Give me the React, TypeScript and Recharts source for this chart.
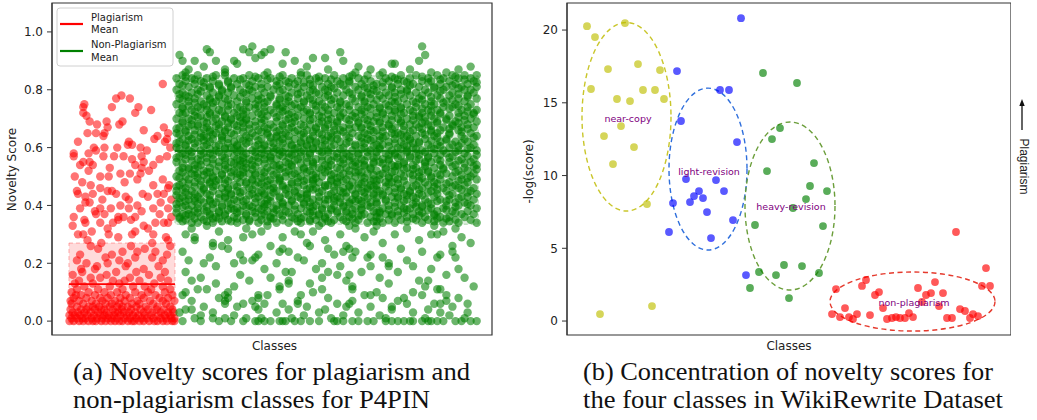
import { ScatterChart, Scatter, XAxis, YAxis, ReferenceArea, ReferenceLine } from "recharts";

const FONT = "DejaVu Sans, sans-serif";
const SERIF = "Liberation Serif, 'Times New Roman', serif";

// ---- (a) P4PIN novelty scores ----
// each row: "y (hundredths)  x-codes (0-99 across the class block)"
const RED_ROWS = [
  "82 88", "78 49", "77 44 57", "75 14", "74 13 40 65", "73 77", "72 13 62", "71 16",
  "69 19 35 50", "68 26 47", "67 36 89", "66 70", "65 17 25 33 93", "64 32 83", "63 80 92",
  "62 56 90 8", "61 55 59", "60 23 33 45 67 95", "59 25 73", "58 4 18", "57 4 32 42 51 68 92",
  "56 59 85", "55 13 19 70", "54 22 62 79 10", "53 68 38", "52 18 75", "51 48 57 67", "50 5 37 29",
  "49 64 88", "48 12 52", "47 20 79 94", "46 29 93", "45 36 40 7", "44 8 22 44 69 83 89",
  "43 15 53 74", "42 56 96 31", "41 15 19 86", "40 64 48", "39 10 29 39 56 79 93", "38 68 24",
  "37 25 33 85", "36 4 46 51 62 96", "35 46 58 14", "34 15 29 41 81 89 93", "33 3 70", "32 36 74",
  "31 62 21", "30 8 13 37 59 79", "29 46 91", "28 93 17", "27 78 30", "26 20 58 95", "25 27 71",
  "24 50 64 81", "23 10 92 40", "22 62 34 78", "21 88 7 47", "20 16 36 55", "19 53 84 26",
  "18 24 70 11", "17 12 44 90 63", "16 3 35 75", "15 29 57 86 20", "14 9 66 41 93 52",
  "13 22 80 47 5", "12 38 14 60 88 71", "11 27 50 7 77 95", "10 2 18 33 45 62 74 90",
  "09 11 24 39 53 68 81 97 6", "08 4 16 29 36 48 57 70 85 93", "07 9 21 31 43 52 64 76 88 99 1",
  "06 2 13 25 34 47 59 66 79 91 40", "05 7 18 28 38 45 55 63 72 83 95 22 50",
  "04 1 11 16 24 33 41 49 58 67 74 82 89 97 30",
  "03 3 8 14 20 27 35 43 51 56 62 70 78 86 93 98 46",
  "02 0 5 10 17 23 29 37 42 48 54 60 65 71 77 84 90 95 33",
  "01 2 7 12 15 21 26 31 36 40 45 52 57 63 68 73 79 86 91 96 99",
  "00 0 4 9 13 18 22 25 30 34 39 43 47 50 55 59 61 66 70 75 80 83 88 92 97 99",
];

const GREEN_TOP_ROWS = [
  "95 25 81", "94 10 22 31", "93 11 24 29 36 54", "92 1 28 82", "91 26 45 49",
  "90 2 6 13 19 39 55 80", "89 20 71 72 35", "88 9 97 60 43", "87 4 16 64 93 50 77",
  "86 16 59 84 3 30 41 68 89",
];

const GREEN_CORE_ROWS = [
  "85 02 07 13 16 24 29 35 41 43 52 58 63 67 74 79 86 91 95 99",
  "84.5 03 12 26 34 47 57 71 81 92",
  "84 00 05 10 19 22 27 31 38 46 49 55 60 69 72 77 83 88 93 97",
  "83.5 06 21 30 44 51 62 73 87 95",
  "83 03 08 12 17 25 33 36 40 47 53 57 64 70 75 81 84 90 98",
  "82.5 09 17 37 42 57 68 76 83 99",
  "82 01 06 14 20 23 28 34 39 44 50 54 61 66 73 78 87 92 96",
  "81.5 02 14 24 33 45 55 65 77 91",
  "81 04 09 11 18 26 30 37 42 48 51 59 62 68 71 80 85 89 94 99",
  "80.5 11 18 28 40 52 63 71 85 93",
  "80 00 07 15 21 24 32 35 45 49 56 60 65 74 76 82 88 95 97",
  "79.5 08 15 25 34 44 50 66 76 87",
  "79 02 05 12 17 22 29 38 41 46 53 57 63 69 72 79 83 91 98",
  "78.5 01 07 23 40 47 58 64 74 93",
  "78 03 10 14 19 27 31 36 43 50 55 61 67 70 77 81 86 90 96",
  "77.5 04 14 21 31 37 49 61 72 84 96",
  "77 01 06 11 16 25 28 34 40 44 52 58 64 68 75 80 87 93 99",
  "76.5 02 11 17 27 34 45 51 66 81 91",
  "76 04 08 13 20 23 30 37 42 47 54 59 62 71 73 78 84 89 95",
  "75.5 06 12 23 29 36 42 54 62 72 79 88",
  "75 00 09 15 18 26 33 39 45 48 51 56 65 69 76 82 85 92 97",
  "74.5 04 10 17 27 33 38 46 57 70 84 93",
  "74 02 07 12 21 24 29 35 41 49 53 60 63 67 74 79 88 91 96",
  "73.5 02 08 20 26 34 40 54 64 67 74 81 90",
  "73 05 10 14 17 22 31 36 43 46 50 57 61 70 72 77 83 86 94 99",
  "72.5 06 15 23 29 35 42 48 62 72 78 84 96",
  "72 01 03 11 19 27 32 38 44 52 55 59 66 68 75 81 87 93 98",
  "71.5 02 11 13 22 28 37 44 50 61 68 74 87 98",
  "71 06 08 16 20 25 30 34 40 47 54 58 64 71 78 80 84 90 95",
  "70.5 07 10 16 21 33 39 48 54 59 66 80 82 93",
  "70 00 04 13 18 23 28 37 42 45 51 56 62 69 73 76 85 89 97",
  "69.5 05 18 23 29 36 44 50 57 63 71 78 89 95",
  "69 02 09 12 15 21 26 33 39 48 53 60 65 67 74 82 86 92 99",
  "68.5 02 10 17 22 28 38 47 53 60 67 74 81 86 93",
  "68 05 07 14 19 24 31 35 41 44 50 57 63 70 77 79 83 91 96",
  "67.5 04 07 13 20 26 35 42 52 64 70 75 84 91",
  "67 01 10 17 22 29 32 38 46 49 55 59 61 68 72 80 88 94 98",
  "66.5 00 09 14 24 30 37 46 49 57 61 71 81 90 96",
  "66 03 06 11 16 20 27 34 40 43 52 54 64 66 75 78 84 87 93",
  "65.5 03 11 16 22 28 33 39 45 55 65 68 77 84 94",
  "65 00 08 13 18 25 30 36 42 47 51 58 62 71 73 81 86 90 97",
  "64.5 01 06 12 19 30 35 41 48 53 63 72 74 82 90",
  "64 04 09 15 23 26 33 37 45 50 56 60 67 69 76 79 85 94 99",
  "63.5 08 10 15 24 31 33 42 51 57 61 68 75 86 98",
  "63 02 05 12 17 21 28 35 39 44 48 53 63 65 72 77 82 89 95",
  "62.5 04 09 15 22 27 37 44 49 51 64 67 77 84 89",
  "62 01 07 11 19 24 31 34 41 46 54 57 61 70 74 80 87 92 96",
  "61.5 00 06 17 23 32 35 41 46 56 62 72 78 80 94",
  "61 03 10 14 20 27 29 38 43 49 52 59 66 68 75 83 86 91 98",
  "60.5 03 09 13 20 26 29 38 43 48 59 65 70 76 87 93",
  "60 00 06 16 18 22 32 36 40 45 51 55 62 67 73 78 84 90 97",
  "59.5 01 11 16 19 28 33 39 45 54 61 67 74 79 85 96",
  "59 04 08 13 21 25 30 34 42 47 50 58 64 71 76 81 88 93 99",
  "58.5 05 14 20 26 32 35 41 48 50 63 66 76 82 92",
  "58 02 09 11 17 23 28 37 39 44 53 56 60 69 72 79 85 89 95",
  "57.5 03 08 12 22 29 34 38 44 55 60 70 72 80 87 99",
  "57 01 05 15 19 26 31 35 41 48 52 57 63 66 74 77 83 91 96",
  "56.5 00 10 16 22 27 31 37 43 53 58 65 73 77 83 90",
  "56 03 07 12 20 24 29 33 40 46 50 55 61 68 70 80 86 94 98",
  "55.5 05 08 16 21 25 31 39 48 51 57 62 70 79 87 93",
  "55 00 10 14 18 22 27 36 43 45 54 59 65 67 75 82 84 90 97",
  "54.5 02 12 19 23 29 37 41 45 55 60 65 68 75 82 95",
  "54 06 08 16 21 25 32 34 38 49 51 58 62 71 73 78 87 92 99",
  "53.5 07 14 20 26 33 38 45 50 59 62 72 73 82 91 98",
  "53 02 04 11 17 23 30 35 42 47 53 56 64 69 76 79 85 88 95",
  "52.5 04 06 16 22 25 34 42 48 54 64 69 75 78 88 99",
  "52 01 09 13 19 28 31 37 40 44 50 57 60 66 72 81 83 93 96",
  "51.5 02 10 11 18 22 29 36 43 49 59 61 71 80 83 92",
  "51 05 07 15 20 24 26 33 39 46 52 55 63 68 74 77 86 89 98",
  "50.5 06 09 15 21 26 32 38 45 51 57 65 67 78 87 94",
  "50 00 03 12 18 22 29 36 41 48 54 59 61 70 75 80 84 91 97",
  "49.5 01 07 12 20 28 34 40 46 53 62 70 72 81 84 96",
  "49 04 10 14 16 25 31 34 43 45 51 56 65 67 73 78 87 94 99",
  "48.5 08 13 17 25 30 34 42 45 51 55 64 66 75 80 93",
  "48 02 06 11 21 23 27 38 40 47 53 58 62 69 71 82 85 90 96",
  "47.5 04 11 16 23 28 32 38 45 53 60 61 70 73 86 89",
  "47 01 08 13 19 26 30 35 42 49 50 57 64 66 76 79 83 92 95",
  "46.5 00 06 12 20 29 35 40 49 52 57 65 69 78 85 91",
  "46 03 09 15 17 24 32 37 44 46 55 60 63 72 74 81 88 93 98",
  "45.5 02 09 17 25 31 36 43 45 58 63 66 74 80 86 94",
  "45 00 05 12 20 22 28 33 39 48 52 54 61 67 70 77 84 89 97",
  "44.5 03 08 16 21 27 32 39 47 55 56 62 72 77 83 96",
  "44 06 10 14 18 25 29 36 41 43 51 59 65 68 75 80 86 91 99",
  "43.5 00 04 11 18 24 29 37 43 50 59 65 68 76 81 90",
  "43 02 07 16 21 27 31 34 40 47 53 56 62 71 73 78 85 94 96",
  "42.5 01 06 14 16 26 34 41 43 52 54 63 66 73 79 93",
  "42 04 08 11 19 23 30 38 45 49 50 58 60 69 76 82 87 90 98",
  "41.5 03 06 11 20 22 31 38 47 52 59 61 69 75 86 89",
  "41 01 09 13 17 26 28 35 42 44 54 57 64 66 72 79 83 92 95",
  "40.5 00 07 12 18 29 30 35 42 49 57 61 66 78 84 96",
  "40 03 05 15 22 24 33 37 39 46 52 55 63 70 74 81 89 93 97",
  "39.5 02 10 15 23 25 29 35 44 45 55 64 72 79 81 92",
  "39 00 07 12 18 20 27 32 41 48 51 59 61 68 75 77 84 88 99",
  "38.5 04 09 17 19 28 33 39 48 51 58 61 70 76 83 89",
  "38 06 10 14 21 25 30 36 43 45 53 56 65 67 73 80 86 91 96",
  "37.5 00 07 14 20 26 32 37 44 53 56 66 67 75 81 92",
  "37 02 04 11 16 23 29 34 40 47 50 58 62 69 71 78 85 94 98",
  "36.5 03 05 11 16 23 28 35 45 47 60 61 71 73 80 85",
  "36 01 08 13 19 26 31 38 42 49 54 57 64 66 76 82 87 90 95",
  "35.5 01 06 12 14 20 32 31 39 41 49 58 67 78 86 89",
  "35 03 09 17 22 24 28 35 44 46 52 55 60 70 74 79 83 92 97",
  "34.5 02 10 15 18 24 30 40 44 50 56 65 66 76 85 90",
  "34 05 07 12 20 27 33 37 41 48 51 59 63 68 72 81 88 93 99",
];

const GREEN_LOW_ROWS = [
  "33 10 47 66 85 30 57", "32 23 59 5 76 92", "31 39 45 65 28 14 88", "30 25 41 54 84 86 72 3",
  "29 22 94 6 62 35", "28 17 6 49 80", "27 12 68 43 97", "26 12 15 31 44 91 56", "25 35 50 57 17 74",
  "24 34 37 55 59 81 91 2", "23 27 52 64 21 87", "22 11 26 63 68 58 86 92 40", "21 4 22 42 25 76",
  "20 19 48 9 33 70", "19 64 70 78 13 54", "18 93 29 46 84", "17 38 50 36 73 3 61", "16 53 57 21 89",
  "15 48 8 31 67 95", "14 37 56 80 83 5 24", "13 37 13 70 44", "12 34 82 19 58 98",
  "11 34 7 10 58 87 86 48", "10 45 78 17 3 66", "09 27 30 62 64 81 89 2 16 41",
  "08 75 14 17 93 27 50 68", "07 40 25 89 16 58 73 5", "06 29 35 40 57 85 87 53 22 16 76 96",
  "05 43 56 71 20 26 9 64 91", "04 3 5 27 71 37 83 49", "03 47 78 96 1 87 12 33 60",
  "02 19 42 67 90 8 55", "01 6 12 16 82 23 38 51 69 95 28",
  "00 8 14 18 22 26 27 29 31 34 35 36 39 41 44 52 53 55 58 63 65 69 71 73 75 77 78 81 83 84 86 88 92 94 97 99 2 47 60",
];

const RED_SPAN = [0, 100]; // sample-index block of each class
const GREEN_SPAN = [100, 386];
const RED_BOX = [-0.01, 0.27];
const GREEN_BOX = [0.335, 0.848];
const RED_MEAN = 0.128;
const GREEN_MEAN = 0.588;
const LEFT_X = [-16, 399];
const LEFT_Y = [-0.048, 1.1];
const LEFT_TICKS = [0, 0.2, 0.4, 0.6, 0.8, 1.0];

// ---- (b) WikiRewrite classes: [x position, -log(score)] ----
const NEAR_COPY = [
  [20, 20.27], [58, 20.48], [28, 19.52], [41, 17.32], [71, 17.66], [93, 17.25], [24, 15.95],
  [76, 15.88], [88, 15.88], [50, 15.26], [63, 15.12], [97, 15.26], [54, 13.4], [37, 12.71],
  [67, 11.96], [46, 10.79], [80, 8.04], [33, 0.48], [85, 1.03],
];
const LIGHT_REVISION = [
  [174, 20.82], [110, 17.18], [153, 15.88], [162, 15.88], [114, 13.75], [170, 12.3], [119, 9.76],
  [149, 9.69], [157, 8.93], [132, 8.93], [127, 8.59], [136, 8.45], [123, 8.18], [106, 8.11],
  [140, 7.49], [166, 6.94], [102, 6.12], [144, 5.7], [179, 3.16],
];
const HEAVY_REVISION = [
  [196, 17.05], [230, 16.36], [213, 13.26], [205, 12.51], [247, 10.86], [200, 10.31], [243, 9.28],
  [260, 8.93], [239, 8.38], [226, 7.77], [188, 6.6], [256, 6.53], [217, 3.85], [235, 3.78],
  [192, 3.37], [209, 3.16], [252, 3.3], [183, 2.27], [222, 1.58],
];
const NON_PLAGIARISM = [
  [389, 6.12], [419, 3.64], [299, 2.82], [269, 2.2], [295, 2.41], [415, 2.41], [423, 2.41],
  [368, 2.68], [351, 2.27], [312, 1.99], [308, 1.79], [359, 1.79], [364, 1.92], [376, 1.92],
  [316, 0.89], [355, 1.31], [372, 1.03], [278, 0.89], [265, 0.48], [273, 0.27], [282, 0.27],
  [286, 0.14], [290, 0.48], [303, 0.41], [320, 0.14], [325, 0.21], [329, 0.27], [333, 0.21],
  [338, 0.21], [342, 0.55], [346, 0.27], [380, 0.21], [385, 0.21], [393, 0.82], [398, 0.69],
  [403, 0.21], [406, 0.48], [411, 0.34],
];
// cluster ellipses: x1, x2, y1, y2, colour
const CLUSTERS = [
  { x1: 15, x2: 104, y1: 7.56, y2: 20.52, color: "#c9c62a" },
  { x1: 102, x2: 180, y1: 4.88, y2: 16.01, color: "#2f6fdc" },
  { x1: 178, x2: 268, y1: 2.13, y2: 13.68, color: "#6b9e3a" },
  { x1: 263, x2: 428, y1: -0.69, y2: 3.37, color: "#e5392c" },
];
const CLUSTER_LABELS = [
  { x: 61, y: 13.95, text: "near-copy" },
  { x: 142, y: 10.31, text: "light-revision" },
  { x: 224, y: 7.84, text: "heavy-revision" },
  { x: 347, y: 1.24, text: "non-plagiarism" },
];
const RIGHT_X = [0, 444];
const RIGHT_Y = [-0.96, 21.86];
const RIGHT_TICKS = [0, 5, 10, 15, 20];

function parseRows(rows: string[], span: number[]) {
  const step = (span[1] - span[0]) / 100;
  return rows.flatMap((row) => {
    const [y, ...codes] = row.trim().split(/\s+/);
    return codes.map((c) => ({ x: span[0] + (Number(c) + 0.5) * step, y: Number(y) / 100 }));
  });
}

const toPts = (arr: number[][]) => arr.map(([x, y]) => ({ x, y }));

const redPts = parseRows(RED_ROWS, RED_SPAN);
const greenPts = [
  ...parseRows(GREEN_LOW_ROWS, GREEN_SPAN),
  ...parseRows(GREEN_CORE_ROWS, GREEN_SPAN),
  ...parseRows(GREEN_TOP_ROWS, GREEN_SPAN),
];

const dot = (color: string, r: number, op: number) => (p: any) =>
  <circle cx={p.cx} cy={p.cy} r={r} fill={color} fillOpacity={op} />;

const ellipse = (color: string) => (p: any) => (
  <ellipse
    cx={p.x + p.width / 2}
    cy={p.y + p.height / 2}
    rx={Math.abs(p.width) / 2}
    ry={Math.abs(p.height) / 2}
    fill="none"
    stroke={color}
    strokeWidth={1.4}
    strokeDasharray="5 3.5"
  />
);

const tick = { fontSize: 12, fill: "#222", fontFamily: FONT };

export default function App() {
  return (
    <div style={{ position: "absolute", left: 0, top: 0, width: 1037, height: 420, background: "#fff", overflow: "hidden" }}>
      <div style={{ position: "absolute", left: 0, top: 0 }}>
        <ScatterChart width={500} height={350} margin={{ top: 3, right: 8, bottom: 15, left: 0 }}>
          <XAxis type="number" dataKey="x" domain={LEFT_X} hide allowDataOverflow />
          <YAxis
            type="number"
            dataKey="y"
            domain={LEFT_Y}
            ticks={LEFT_TICKS}
            width={52}
            allowDataOverflow
            tickFormatter={(v: number) => v.toFixed(1)}
            tick={tick}
            tickSize={5}
            tickMargin={4}
            tickLine={{ stroke: "#333" }}
            axisLine={{ stroke: "#333" }}
          />
          <ReferenceArea x1={RED_SPAN[0]} x2={RED_SPAN[1]} y1={RED_BOX[0]} y2={RED_BOX[1]} fill="#ff0000" fillOpacity={0.14} stroke="#ff0000" strokeOpacity={0.3} strokeDasharray="4 3" ifOverflow="visible" />
          <ReferenceArea x1={GREEN_SPAN[0]} x2={GREEN_SPAN[1]} y1={GREEN_BOX[0]} y2={GREEN_BOX[1]} fill="#008000" fillOpacity={0.12} stroke="#008000" strokeOpacity={0.3} strokeDasharray="4 3" ifOverflow="visible" />
          <Scatter data={redPts} shape={dot("#ff0000", 4.2, 0.55)} isAnimationActive={false} />
          <Scatter data={greenPts} shape={dot("#008000", 4.2, 0.58)} isAnimationActive={false} />
          <ReferenceLine segment={[{ x: RED_SPAN[0], y: RED_MEAN }, { x: RED_SPAN[1], y: RED_MEAN }]} stroke="#ff0000" strokeWidth={1.6} />
          <ReferenceLine segment={[{ x: GREEN_SPAN[0], y: GREEN_MEAN }, { x: GREEN_SPAN[1], y: GREEN_MEAN }]} stroke="#006400" strokeWidth={1.6} />
          <ReferenceArea x1={LEFT_X[0]} x2={LEFT_X[1]} y1={LEFT_Y[0]} y2={LEFT_Y[1]} fill="none" stroke="#333" strokeWidth={1.2} ifOverflow="visible" />
        </ScatterChart>
      </div>

      <div style={{ position: "absolute", left: 515, top: 0 }}>
        <ScatterChart width={496} height={350} margin={{ top: 3, right: 0, bottom: 15, left: 0 }}>
          <XAxis type="number" dataKey="x" domain={RIGHT_X} hide allowDataOverflow />
          <YAxis
            type="number"
            dataKey="y"
            domain={RIGHT_Y}
            ticks={RIGHT_TICKS}
            width={52}
            allowDataOverflow
            tick={tick}
            tickSize={5}
            tickMargin={4}
            tickLine={{ stroke: "#333" }}
            axisLine={{ stroke: "#333" }}
          />
          {CLUSTERS.map((c, i) => (
            <ReferenceArea key={i} x1={c.x1} x2={c.x2} y1={c.y1} y2={c.y2} shape={ellipse(c.color)} ifOverflow="visible" />
          ))}
          <Scatter data={toPts(NEAR_COPY)} shape={dot("#bfbf00", 3.9, 0.65)} isAnimationActive={false} />
          <Scatter data={toPts(LIGHT_REVISION)} shape={dot("#0000ff", 3.9, 0.65)} isAnimationActive={false} />
          <Scatter data={toPts(HEAVY_REVISION)} shape={dot("#008000", 3.9, 0.65)} isAnimationActive={false} />
          <Scatter data={toPts(NON_PLAGIARISM)} shape={dot("#ff0000", 3.9, 0.65)} isAnimationActive={false} />
          <Scatter
            data={CLUSTER_LABELS}
            isAnimationActive={false}
            shape={(p: any) => (
              <text x={p.cx} y={p.cy} textAnchor="middle" dominantBaseline="central" fontSize={9.5} fill="#800080" fontFamily={FONT}>
                {p.payload.text}
              </text>
            )}
          />
          <ReferenceArea x1={RIGHT_X[0]} x2={RIGHT_X[1]} y1={RIGHT_Y[0]} y2={RIGHT_Y[1]} fill="none" stroke="#333" strokeWidth={1.2} ifOverflow="visible" />
        </ScatterChart>
      </div>

      <svg width={1037} height={420} style={{ position: "absolute", left: 0, top: 0, pointerEvents: "none" }}>
        {/* legend of panel (a) */}
        <rect x={57} y={8} width={116} height={58} rx={3} fill="#fff" fillOpacity={0.8} stroke="#d0d0d0" />
        <line x1={60} x2={83} y1={24} y2={24} stroke="#ff0000" strokeWidth={2.2} />
        <line x1={60} x2={83} y1={51} y2={51} stroke="#008000" strokeWidth={2.2} />
        <g fontFamily={FONT} fontSize={10} fill="#222">
          <text x={91} y={20.5}>Plagiarism</text>
          <text x={91} y={33}>Mean</text>
          <text x={91} y={47.5}>Non-Plagiarism</text>
          <text x={91} y={60.5}>Mean</text>
        </g>

        <g fontFamily={FONT} fontSize={12} fill="#222">
          <text x={274.5} y={350} textAnchor="middle">Classes</text>
          <text x={789} y={350} textAnchor="middle">Classes</text>
          <text transform="translate(16,169.5) rotate(-90)" textAnchor="middle">Novelty Score</text>
          <text transform="translate(533,171.5) rotate(-90)" textAnchor="middle">-log(score)</text>
        </g>

        {/* plagiarism direction marker */}
        <line x1={1022} x2={1022} y1={130} y2={104} stroke="#111" strokeWidth={1.3} />
        <polygon points="1022,99 1019.3,106 1024.7,106" fill="#111" />
        <text transform="translate(1019.5,166.5) rotate(90)" textAnchor="middle" fontFamily="Liberation Sans, Arial, sans-serif" fontSize={12} fill="#222">
          Plagiarism
        </text>

        <g fontFamily={SERIF} fontSize={26} fill="#111">
          <text x={73} y={380} textLength={397} lengthAdjust="spacingAndGlyphs">(a) Novelty scores for plagiarism and</text>
          <text x={73} y={408} textLength={357} lengthAdjust="spacingAndGlyphs">non-plagiarism classes for P4PIN</text>
          <text x={583} y={380} textLength={410} lengthAdjust="spacingAndGlyphs">(b) Concentration of novelty scores for</text>
          <text x={583} y={408} textLength={420} lengthAdjust="spacingAndGlyphs">the four classes in WikiRewrite Dataset</text>
        </g>
      </svg>
    </div>
  );
}
